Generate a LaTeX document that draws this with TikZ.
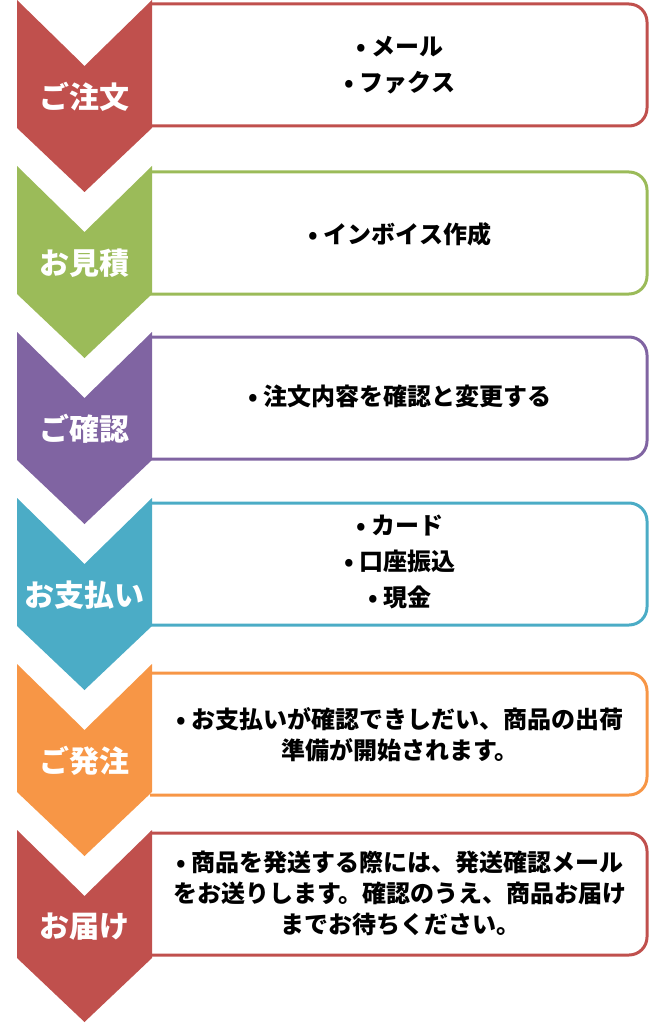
\documentclass[tikz,border=0pt]{standalone}
\usepackage{fontspec}
\newfontfamily\jpfont{Noto Sans CJK JP}
\usetikzlibrary{positioning}
\definecolor{c1}{HTML}{C0504D}
\definecolor{c2}{HTML}{9BBB59}
\definecolor{c3}{HTML}{8064A2}
\definecolor{c4}{HTML}{4BACC6}
\definecolor{c5}{HTML}{F79646}

\begin{document}
\begin{tikzpicture}[x=1pt, y=-1pt,
    every node/.style={font=\jpfont},
    lab/.style={font=\jpfont\bfseries\fontsize{30}{32}\selectfont, text=white},
    txt/.style={font=\jpfont\bfseries\fontsize{24}{36}\selectfont, text=black, align=center},
    tight/.style={font=\jpfont\bfseries\fontsize{24}{31}\selectfont},
]
\useasboundingbox (0,0) rectangle (658,1024);

% boxes, only the right corners rounded
\foreach \t/\col in {4/c1, 172/c2, 337/c3, 503/c4, 673/c5, 833/c1}{
    \draw[\col, line width=3pt, rounded corners=18pt]
        (150,\t) -- (647,\t) -- (647,\t+122) -- (150,\t+122);
}

% chevrons down the left
\foreach \t/\col in {0/c1, 166/c2, 332/c3, 498/c4, 664/c5, 830/c1}{
    \fill[\col] (17,\t) -- (84.5,\t+66) -- (152,\t) -- (152,\t+128)
        -- (84.5,\t+192) -- (17,\t+128) -- cycle;
}

\node[lab] (order) at (84.5, 97) {ご注文};
\node[lab] (quote) at (84.5, 263) {お見積};
\node[lab] (check) at (84.5, 429) {ご確認};
\node[lab] (pay) at (84.5, 595) {お支払い};
\node[lab] (ship) at (84.5, 761) {ご発注};
\node[lab] (deliver) at (84.5, 927) {お届け};

\node[txt] (ordertxt) at (400, 65) {• メール\\• ファクス};
\node[txt] (quotetxt) at (400, 234) {• インボイス作成};
\node[txt] (checktxt) at (400, 396) {• 注文内容を確認と変更する};
\node[txt] (paytxt) at (400, 562) {• カード\\• 口座振込\\• 現金};
\node[txt, tight] (shiptxt) at (400, 735) {• お支払いが確認できしだい、商品の出荷\\準備が開始されます。};
\node[txt, tight] (delivertxt) at (400, 893) {• 商品を発送する際には、発送確認メール\\をお送りします。確認のうえ、商品お届け\\までお待ちください。};
\end{tikzpicture}
\end{document}
